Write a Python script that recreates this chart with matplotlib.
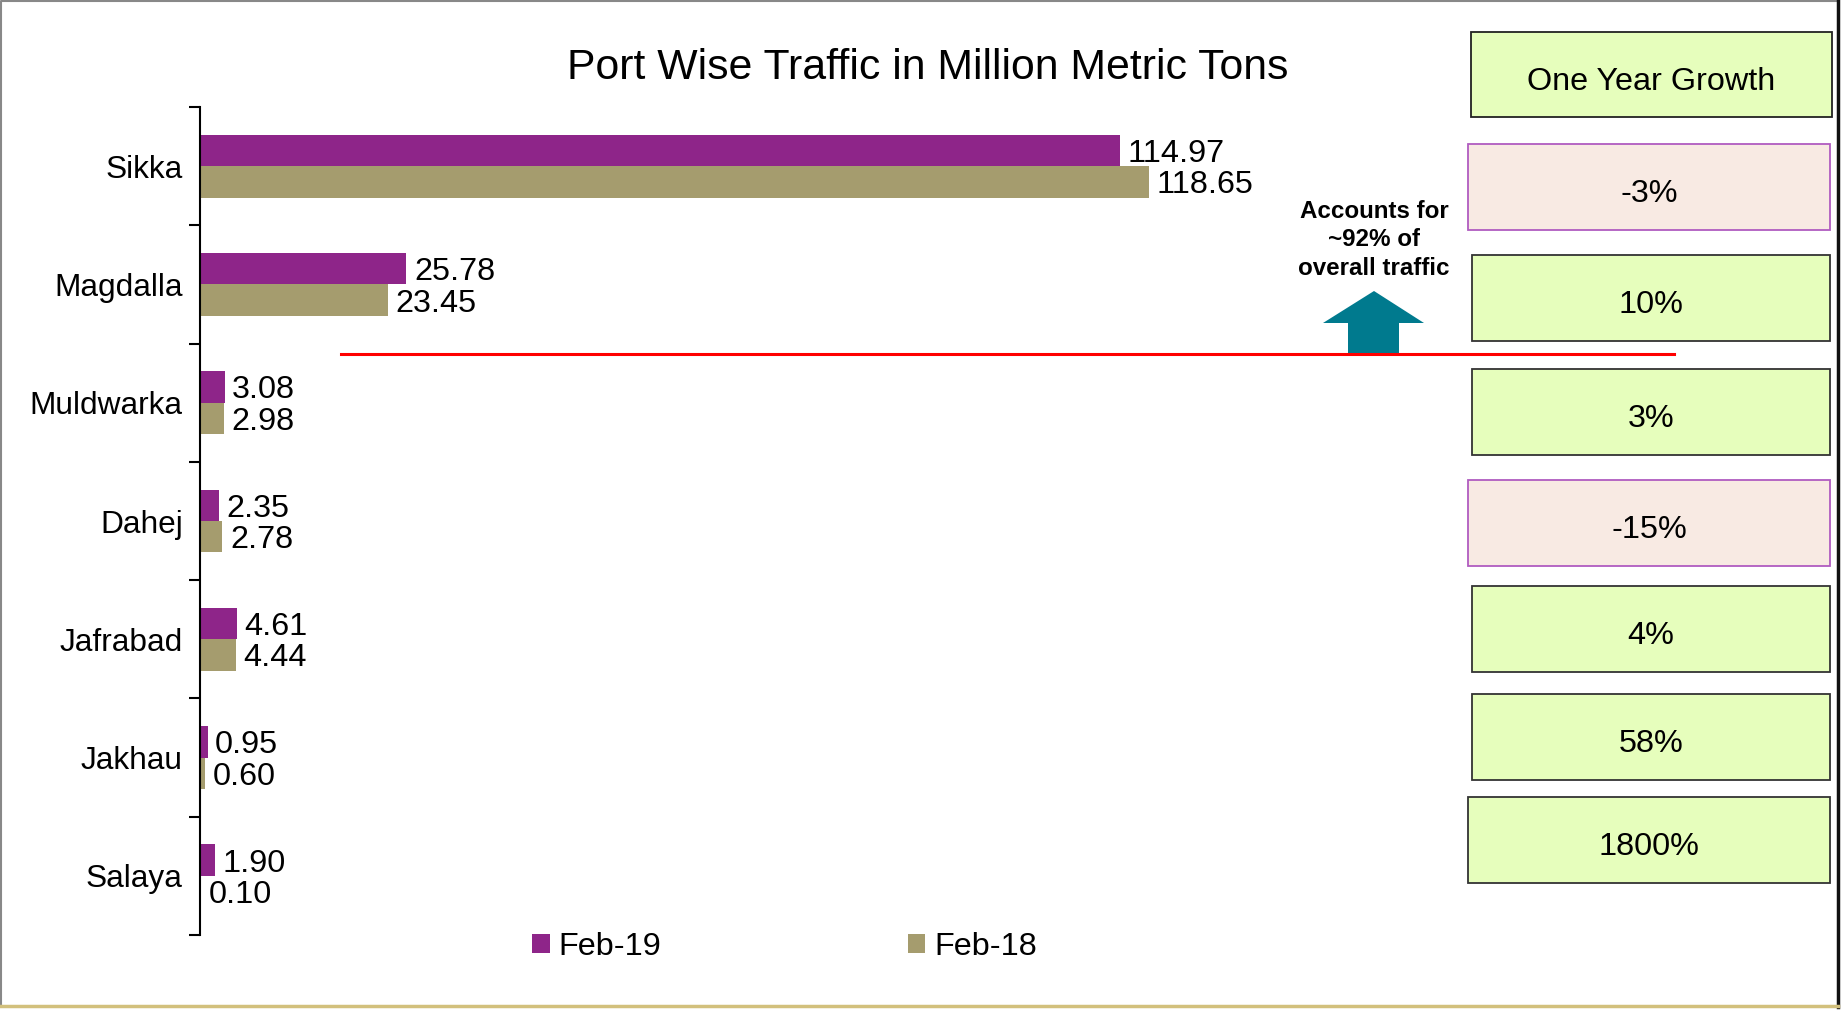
import matplotlib
matplotlib.use("Agg")
import matplotlib.pyplot as plt
from matplotlib.patches import Rectangle, Patch, Polygon
from matplotlib.lines import Line2D
import numpy as np

plt.rcParams['font.family'] = ['Liberation Sans', 'DejaVu Sans']

ports = ["Sikka", "Magdalla", "Muldwarka", "Dahej", "Jafrabad", "Jakhau", "Salaya"]
feb19 = [114.97, 25.78, 3.08, 2.35, 4.61, 0.95, 1.90]
feb18 = [118.65, 23.45, 2.98, 2.78, 4.44, 0.60, 0.10]
growth = ["-3%", "10%", "3%", "-15%", "4%", "58%", "1800%"]
series_names = ["Feb-19", "Feb-18"]
title = "Port Wise Traffic in Million Metric Tons"
note = "Accounts for\n~92% of\noverall traffic"

c19 = "#8E2589"
c18 = "#A59C6E"

W, H = 1845, 1010
fig = plt.figure(figsize=(W / 100, H / 100), dpi=100)

def fx(px):
    return px / W

def fy(py):
    return 1 - py / H

FS = 23.3

ax = fig.add_axes([fx(200), fy(935), fx(1450) - fx(200), fy(107) - fy(935)])
y = np.arange(len(ports))
bh = 0.266
ax.barh(y - bh / 2, feb19, height=bh, color=c19, label=series_names[0])
ax.barh(y + bh / 2, feb18, height=bh, color=c18, label=series_names[1])
ax.set_ylim(len(ports) - 0.5, -0.5)
ax.set_xlim(0, 1250 / 8.0)

for yi, v in zip(y - bh / 2, feb19):
    ax.annotate(f"{v:.2f}", (v, yi), xytext=(5.5, -2.5), textcoords="offset points",
                va="center", ha="left", fontsize=FS)
for yi, v in zip(y + bh / 2, feb18):
    ax.annotate(f"{v:.2f}", (v, yi), xytext=(5.5, -2.5), textcoords="offset points",
                va="center", ha="left", fontsize=FS)

ax.set_yticks(np.arange(len(ports) + 1) - 0.5)
ax.set_yticklabels([])
ax.set_yticks(y, minor=True)
ax.set_yticklabels(ports, minor=True, fontsize=22.8)
ax.tick_params(axis="y", which="major", length=8, width=1.5, direction="out")
ax.tick_params(axis="y", which="minor", length=0, pad=12.5)
ax.set_xticks([])
for s in ["top", "right", "bottom"]:
    ax.spines[s].set_visible(False)
ax.spines["left"].set_linewidth(1.5)

fig.text(fx(928), fy(68), title, ha="center", va="center", fontsize=30.8)

# legend
handles = [Patch(facecolor=c19, edgecolor="none"), Patch(facecolor=c18, edgecolor="none")]
fig.legend(handles, series_names, loc="center left", bbox_to_anchor=(fx(532), fy(947)),
           ncol=2, frameon=False, fontsize=FS, handlelength=0.55, handleheight=0.55,
           handletextpad=0.28, columnspacing=7.6, borderpad=0, borderaxespad=0)

# growth boxes
green = "#E6FEBC"
pink = "#F8EAE3"
boxes = [(1471, 32, 1832, 117, green, "#222222", "One Year Growth")]
tops = [144, 255, 369, 480, 586, 694, 797]
for t, g in zip(tops, growth):
    neg = g.startswith("-")
    boxes.append((1468 if neg or g == "1800%" else 1472, t, 1830, t + 86,
                  pink if neg else green, "#B05CC0" if neg else "#333333", g))
for x0, y0, x1, y1, fc, ec, txt in boxes:
    fig.patches.append(Rectangle((fx(x0), fy(y1)), fx(x1) - fx(x0), fy(y0) - fy(y1),
                                 transform=fig.transFigure, facecolor=fc, edgecolor=ec,
                                 linewidth=1.3))
    fig.text(fx((x0 + x1) / 2), fy((y0 + y1) / 2 + 7), txt, ha="center", va="center", fontsize=FS)

# red line
fig.add_artist(Line2D([fx(341), fx(1674)], [fy(354), fy(354)], color="#FF0000", lw=2.2,
                      transform=fig.transFigure))
# arrow
arrow_px = [(1348, 354), (1348, 323), (1323, 323), (1374, 291), (1424, 323), (1399, 323), (1399, 354)]
fig.patches.append(Polygon([(fx(a), fy(b)) for a, b in arrow_px], closed=True,
                           transform=fig.transFigure, facecolor="#007A8E", edgecolor="none"))
fig.text(fx(1374), fy(240), note, ha="center", va="center", fontsize=17.4,
         fontweight="bold", linespacing=1.3)

# figure border
fig.add_artist(Line2D([fx(1), fx(1), fx(1837)], [fy(1006), fy(1), fy(1)], color="#888888", lw=1.5,
                      transform=fig.transFigure))
fig.add_artist(Line2D([fx(1838), fx(1838)], [fy(0), fy(1007)], color="#111111", lw=2.5,
                      transform=fig.transFigure))
fig.add_artist(Line2D([fx(0), fx(1838)], [fy(1006), fy(1006)], color="#D2C07C", lw=2.5,
                      transform=fig.transFigure))

fig.savefig("out.png", dpi=100)
